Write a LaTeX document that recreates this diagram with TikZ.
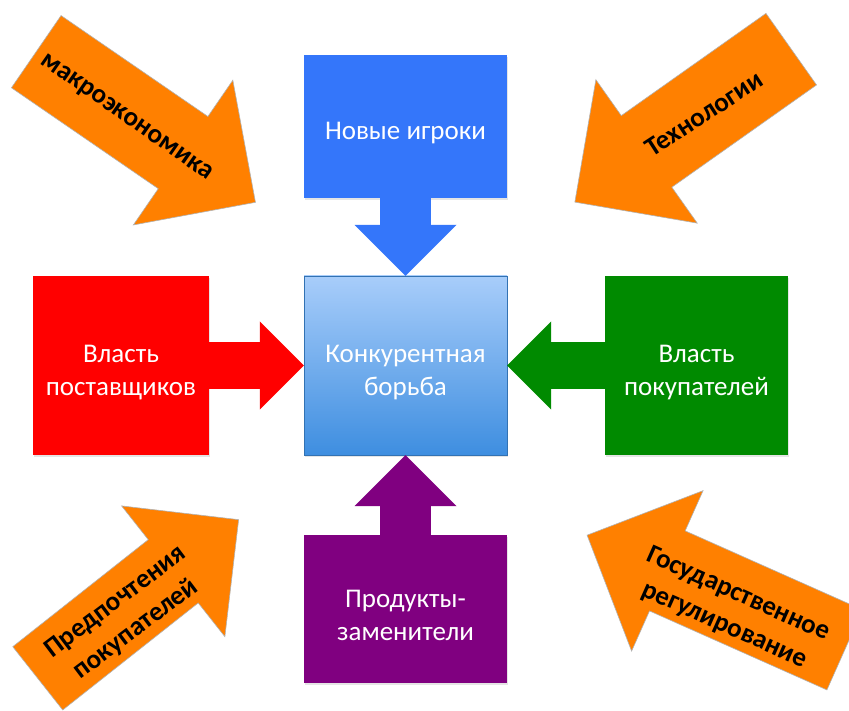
\documentclass[tikz,border=0pt]{standalone}
\usepackage{fontspec}
\setmainfont{Carlito}
\usetikzlibrary{arrows.meta,shapes.arrows,shadows}

\definecolor{forceorange}{RGB}{255,128,0}
\definecolor{entrantblue}{RGB}{52,118,250}
\definecolor{supplierred}{RGB}{255,0,0}
\definecolor{buyergreen}{RGB}{0,138,0}
\definecolor{substpurple}{RGB}{128,0,128}
\definecolor{rivaltop}{RGB}{168,205,250}
\definecolor{rivalbottom}{RGB}{62,142,224}

\begin{document}
\begin{tikzpicture}[x=1pt, y=-1pt,
    forcebox/.style={rectangle, minimum width=203pt, align=center, inner sep=0pt, text height=30pt,
                     text=white, font=\fontsize{27}{33}\selectfont,
                     drop shadow={opacity=0.2, shadow xshift=0.5pt, shadow yshift=-2pt}},
    twolines/.style={text height=64pt},
    vlink/.style={line width=51pt, -{Triangle[length=51pt, width=102pt, line width=0pt]}},
    hlink/.style={line width=47pt, -{Triangle[length=44pt, width=88pt, line width=0pt]}},
    factor/.style={single arrow, fill=forceorange, draw=black!30, line width=0.6pt, inner xsep=0pt,
                   inner ysep=43.5pt, anchor=tail, single arrow head extend=44pt},
    factorlabel/.style={align=center, font=\bfseries\fontsize{27}{34}\selectfont}
]
    \fill[white] (0,0) rectangle (849,711);
    \useasboundingbox (0,0) rectangle (849,711);
    \clip (0,0) rectangle (849,711);

    % Five forces
    \node[forcebox, fill=entrantblue, minimum height=143pt] (entrants) at (405.5,126.5) {Новые игроки};
    \node[forcebox, twolines, draw=rivalbottom!80!black, top color=rivaltop, bottom color=rivalbottom,
          minimum height=179pt] (rivalry) at (405.5,365.5) {Конкурентная\\борьба};
    \node[forcebox, twolines, fill=supplierred, minimum width=176pt, minimum height=179pt] (suppliers) at (121,365.5) {Власть\\поставщиков};
    \node[forcebox, twolines, fill=buyergreen, minimum width=183pt, minimum height=179pt] (buyers) at (696.5,365.5) {Власть\\покупателей};
    \node[forcebox, twolines, fill=substpurple, minimum height=148pt] (substitutes) at (405.5,609) {Продукты-\\заменители};

    % Arrows into the centre
    \draw[vlink, entrantblue] (entrants) -- (rivalry);
    \draw[vlink, substpurple] (substitutes) -- (rivalry);
    \draw[hlink, supplierred] (suppliers) -- (rivalry);
    \draw[hlink, buyergreen] (buyers) -- (rivalry);

    % Outer factors
    \node[factor, rotate=-34.5, minimum height=266pt] (macro) at (36,51.5) {};
    \node[factor, rotate=-144.75, minimum height=265pt] (tech) at (791.5,49) {};
    \node[factor, rotate=38.3, minimum height=256pt, inner ysep=40pt,
          single arrow head extend=43pt] (prefs) at (37.5,678.5) {};
    \node[factor, rotate=156, minimum height=282pt] (regulation) at (845,650) {};

    \node[factorlabel, rotate=-35] (macrotext) at (126,118) {макроэкономика};
    \node[factorlabel, rotate=33] (techtext) at (704,114) {Технологии};
    \node[factorlabel, rotate=37] (prefstext) at (126,616) {Предпочтения\\покупателей};
    \node[factorlabel, rotate=-24] (regtext) at (731.5,610) {Государственное\\регулирование};
\end{tikzpicture}
\end{document}
